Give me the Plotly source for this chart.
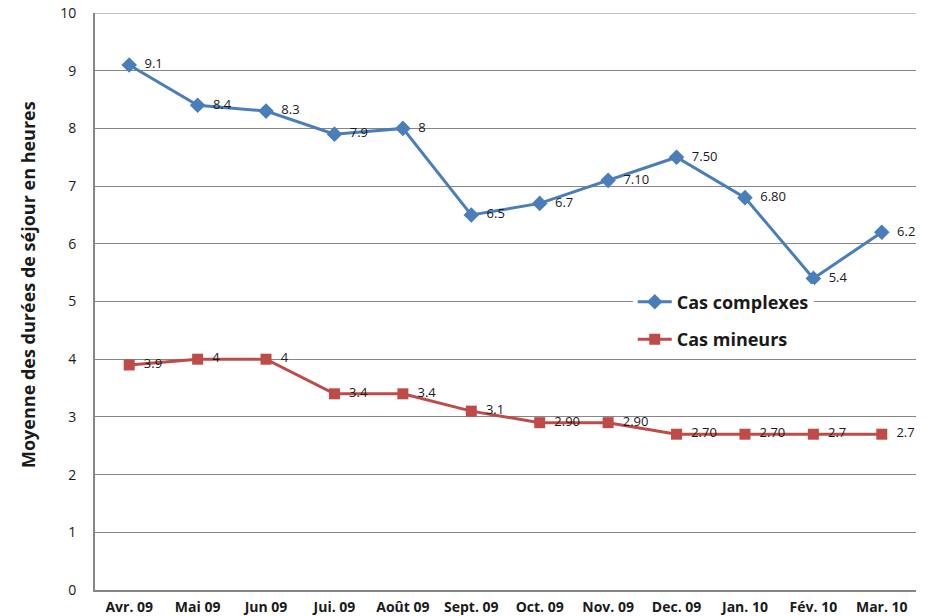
import plotly.graph_objects as go

months = ["Avr. 09", "Mai 09", "Jun 09", "Jui. 09", "Août 09", "Sept. 09",
          "Oct. 09", "Nov. 09", "Dec. 09", "Jan. 10", "Fév. 10", "Mar. 10"]
complexes = [9.1, 8.4, 8.3, 7.9, 8.0, 6.5, 6.7, 7.1, 7.5, 6.8, 5.4, 6.2]
complexes_labels = ["9.1", "8.4", "8.3", "7.9", "8", "6.5", "6.7", "7.10",
                    "7.50", "6.80", "5.4", "6.2"]
mineurs = [3.9, 4.0, 4.0, 3.4, 3.4, 3.1, 2.9, 2.9, 2.7, 2.7, 2.7, 2.7]
mineurs_labels = ["3.9", "4", "4", "3.4", "3.4", "3.1", "2.90", "2.90",
                  "2.70", "2.70", "2.7", "2.7"]
y_ticks = list(range(0, 11))

BLUE = "#4A7EBB"
RED = "#BE4B48"
GRID = "#868686"
FONT = "Open Sans"

fig = go.Figure()
fig.add_trace(go.Scatter(
    x=months, y=complexes, name="Cas complexes", mode="lines+markers+text",
    text=["  " + t for t in complexes_labels], textposition="middle right",
    textfont=dict(family=FONT, size=13, color="#1a1a1a"),
    line=dict(color=BLUE, width=3),
    marker=dict(symbol="diamond", size=12, color=BLUE),
    legendgroup="a", cliponaxis=False,
))
fig.add_trace(go.Scatter(
    x=months, y=mineurs, name="Cas mineurs", mode="lines+markers+text",
    text=["  " + t for t in mineurs_labels], textposition="middle right",
    textfont=dict(family=FONT, size=13, color="#1a1a1a"),
    line=dict(color=RED, width=3),
    marker=dict(symbol="square", size=11, color=RED),
    legendgroup="b", cliponaxis=False,
))

fig.update_layout(
    width=928, height=616,
    margin=dict(l=95, r=12, t=13, b=26, autoexpand=False),
    paper_bgcolor="white", plot_bgcolor="white",
    font=dict(family=FONT, color="#1a1a1a"),
    showlegend=True,
    legend=dict(
        x=0.655, y=0.531, xanchor="left", yanchor="top",
        bgcolor="white", borderwidth=0,
        font=dict(family=FONT, size=18, color="#1a1a1a", weight="bold"),
        tracegroupgap=11, itemwidth=34,
    ),
    xaxis=dict(
        type="category", range=[-0.5, 11.5], automargin=False,
        showgrid=False, showline=True, linecolor=GRID, linewidth=2,
        ticks="", tickfont=dict(family=FONT, size=14, color="#1a1a1a", weight="bold"),
        ticklabelstandoff=3, ticklabeloverflow="allow",
    ),
    yaxis=dict(
        range=[0, 10], tickvals=y_ticks, showgrid=True, gridcolor=GRID, gridwidth=1,
        showline=True, linecolor=GRID, linewidth=2, zeroline=False, automargin=False,
        ticks="", tickfont=dict(family=FONT, size=14, color="#1a1a1a"),
        ticklabelstandoff=14, ticklabeloverflow="allow",
    ),
    shapes=[dict(type="line", xref="paper", yref="y", x0=0, x1=1, y0=10, y1=10,
                 line=dict(color=GRID, width=1), layer="below")],
    annotations=[dict(
        text="Moyenne des durées de séjour en heures", textangle=-90,
        xref="paper", yref="paper", x=-67 / 821, y=0.5286,
        xanchor="center", yanchor="middle", showarrow=False,
        font=dict(family=FONT, size=18, color="#1a1a1a", weight="bold"),
    )],
)

fig.write_html("out.html", config={"displayModeBar": False},
               post_script="document.body.style.margin='0';")
